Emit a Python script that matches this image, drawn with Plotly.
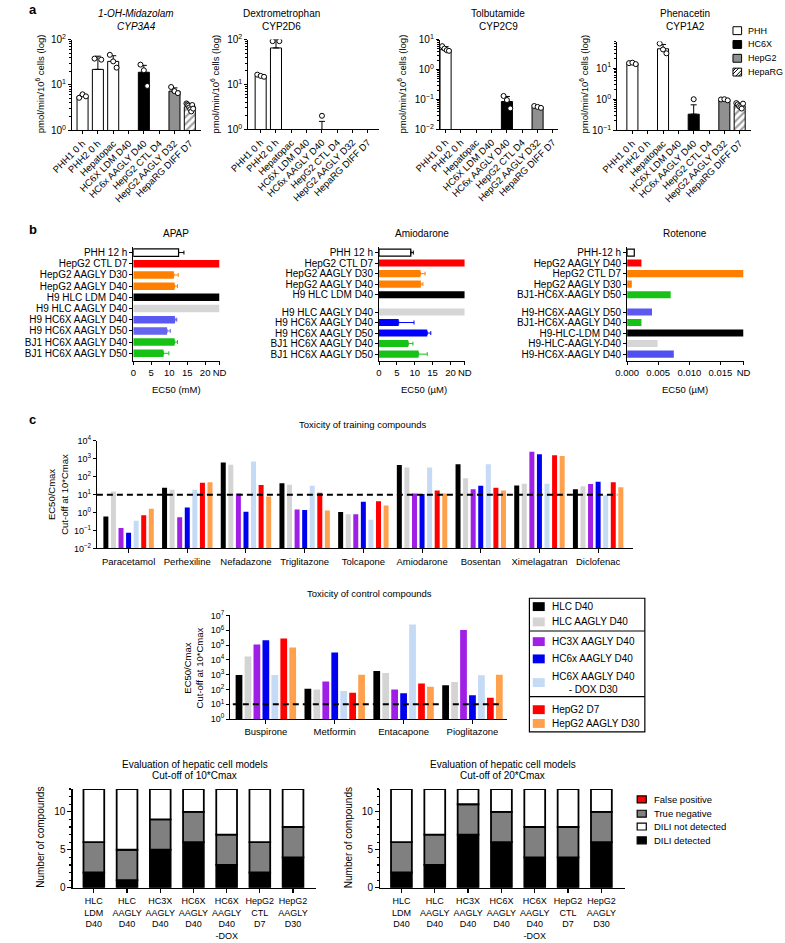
import numpy as np
import plotly.graph_objects as go

W, H = 785, 943
FONT = "Liberation Sans, Arial, Helvetica, sans-serif"

# ===================== Panel a : CYP activities =====================
cyp_samples = ["PHH1 0 h", "PHH2 0 h", "Hepatopac", "HC6X LDM D40", "HC6x AAGLY D40",
               "HepG2 CTL D4", "HepG2 AAGLY D32", "HepaRG DIFF D7"]
cyp_sample_type = ["PHH", "PHH", "PHH", "HC6X", "HC6X", "HepG2", "HepG2", "HepaRG"]
cyp_substrates = ["1-OH-Midazolam", "Dextrometrophan", "Tolbutamide", "Phenacetin"]
cyp_enzymes = ["CYP3A4", "CYP2D6", "CYP2C9", "CYP1A2"]

cyp3a4_mean = [5.6, 22, 33, None, 19, None, 7.3, 3.3]
cyp3a4_err = [0.5, 21, 11, None, 8, None, 1.3, 0.5]
cyp3a4_points = [[5.2, 6.2, 5.6], [38, 36], [46, 33, 24], [], [28, 21, 9.5], [],
                 [9.0, 7.3, 6.6], [3.9, 3.7, 3.5, 3.2, 2.9, 2.6, 3.6, 3.0]]

cyp2d6_mean = [15.5, 65, None, None, 0.7, None, None, None]
cyp2d6_err = [1.0, 35, None, None, 0.8, None, None, None]
cyp2d6_points = [[16.5, 15.5, 14.8], [92, 92], [], [], [2.0], [], [], []]

cyp2c9_mean = [4.6, None, None, None, 0.085, None, 0.055, None]
cyp2c9_err = [1.2, None, None, None, 0.04, None, 0.005, None]
cyp2c9_points = [[6.0, 5.0, 4.4, 4.2], [], [], [], [0.13, 0.095, 0.05], [],
                 [0.06, 0.056, 0.052], []]

cyp1a2_mean = [14, None, 42, None, 0.33, None, 0.95, 0.62]
cyp1a2_err = [0.8, None, 16, None, 0.33, None, 0.05, 0.1]
cyp1a2_points = [[14.5, 15, 13.5], [], [62, 40, 30], [], [1.0], [],
                 [0.98, 1.0, 0.92], [0.75, 0.68, 0.6, 0.55, 0.5, 0.72]]

cell_types = ["PHH", "HC6X", "HepG2", "HepaRG"]

# ===================== Panel b : EC50 =====================
tox_samples = ["PHH 12 h", "HepG2 CTL D7", "HepG2 AAGLY D30", "HepG2 AAGLY D40", "H9 HLC LDM D40",
               "H9 HLC AAGLY D40", "H9 HC6X AAGLY D40", "H9 HC6X AAGLY D50",
               "BJ1 HC6X AAGLY D40", "BJ1 HC6X AAGLY D50"]
apap_ec50_mM = [12.6, "ND", 11.3, 11.5, "ND", "ND", 11.6, 9.4, 11.5, 8.4]
apap_err = [1.5, 0, 1.2, 0.8, 0, 0, 0.5, 0.9, 0.8, 1.5]
amio_ec50_uM = [8.9, "ND", 11.6, 11.7, "ND", "ND", 5.5, 13.5, 8.2, 11.1]
amio_err = [0.7, 0, 1.3, 0.6, 0, 0, 4.3, 1.0, 1.3, 2.4]
rot_samples = ["PHH-12 h", "HepG2 AAGLY D40", "HepG2 CTL D7", "HepG2 AAGLY D30", "BJ1-HC6X-AAGLY D50",
               "H9-HC6X-AAGLY D50", "BJ1-HC6X-AAGLY D40", "H9-HLC-LDM D40", "H9-HLC-AAGLY-D40",
               "H9-HC6X-AAGLY D40"]
rot_ec50_uM = [0.00115, 0.0023, "ND", 0.00075, 0.0070, 0.0040, 0.0023, "ND", 0.0049, 0.0075]
rot_err = [0] * 10

# ===================== Panel c : EC50/Cmax =====================
training_compounds = ["Paracetamol", "Perhexiline", "Nefadazone", "Triglitazone", "Tolcapone",
                      "Amiodarone", "Bosentan", "Ximelagatran", "Diclofenac"]
control_compounds = ["Buspirone", "Metformin", "Entacapone", "Pioglitazone"]
model_names = ["HLC D40", "HLC AAGLY D40", "HC3X AAGLY D40", "HC6x AAGLY D40",
               "HC6X AAGLY D40<br>- DOX D30", "HepG2 D7", "HepG2 AAGLY D30"]
training_ratio = [
    [0.6, 24, 630, 44, 1.07, 450, 500, 33, 20],        # HLC D40
    [15, 19, 470, 36, 0.8, 330, 83, 41, 30],           # HLC AAGLY D40
    [0.14, 0.55, 11.5, 1.5, 0.8, 11.5, 20, 2500, 40],  # HC3X AAGLY D40
    [0.075, 1.95, 1.1, 1.4, 4.0, 11, 32, 1800, 53],    # HC6x AAGLY D40
    [0.35, 19, 700, 32, 0.4, 330, 500, 41, 9.2],       # HC6X AAGLY D40 - DOX
    [0.72, 46, 35, 12.7, 4.3, 17, 24, 1600, 50],       # HepG2 D7
    [1.65, 49, 8, 1.3, 2.5, 11.5, 17, 1450, 26],       # HepG2 AAGLY D30
]
control_ratio = [
    [950, 110, 1800, 190],
    [17000, 100, 1300, 320],
    [1.1e5, 350, 100, 1.05e6],
    [2.1e5, 3.2e4, 55, 40],
    [950, 80, 2.5e6, 900],
    [2.8e5, 60, 250, 27],
    [6.8e4, 1000, 150, 1000],
]

# ===================== Panel c bottom : evaluation =====================
eval_models = ["HLC<br>LDM<br>D40", "HLC<br>AAGLY<br>D40", "HC3X<br>AAGLY<br>D40", "HC6X<br>AAGLY<br>D40",
               "HC6X<br>AAGLY<br>D40<br>-DOX", "HepG2<br>CTL<br>D7", "HepG2<br>AAGLY<br>D30"]
outcome_names = ["False positive", "True negative", "DILI not detected", "DILI detected"]
cut10_detected = [2, 1, 5, 6, 3, 2, 4]
cut10_true_negative = [4, 4, 4, 4, 4, 4, 4]
cut10_false_positive = [0, 0, 0, 0, 0, 0, 0]
cut10_not_detected = [7, 8, 4, 3, 6, 7, 5]
cut20_detected = [2, 3, 7, 6, 4, 4, 6]
cut20_true_negative = [4, 4, 4, 4, 4, 4, 4]
cut20_false_positive = [0, 0, 0, 0, 0, 0, 0]
cut20_not_detected = [7, 6, 2, 3, 5, 5, 3]

# ===================== styling =====================
type_fill = {"PHH": "#ffffff", "HC6X": "#000000", "HepG2": "#909090", "HepaRG": "#ffffff"}
type_pattern = {"PHH": "", "HC6X": "", "HepG2": "", "HepaRG": "/"}
apap_colors = ["#ffffff", "#ff0000", "#ff8000", "#ff8000", "#000000", "#d6d6d6",
               "#5a5af2", "#6565f2", "#17c217", "#17c217"]
amio_colors = ["#ffffff", "#ff0000", "#ff8000", "#ff8000", "#000000", "#d6d6d6",
               "#0000ff", "#0000ff", "#17c217", "#17c217"]
rot_colors = ["#ffffff", "#ff0000", "#ff8000", "#ff8000", "#17c217", "#5a5af2",
              "#17c217", "#000000", "#d6d6d6", "#5050f0"]
model_colors = ["#000000", "#d4d4d4", "#9f1fe6", "#0000f0", "#c5daf5", "#ff0000", "#ffa04d"]
outcome_colors = {"False positive": "#ff0000", "True negative": "#808080",
                  "DILI not detected": "#ffffff", "DILI detected": "#000000"}

fig = go.Figure()
layout = {}
annotations = []
shapes = []


def ids(n):
    s = "" if n == 1 else str(n)
    return "x" + s, "y" + s, "xaxis" + s, "yaxis" + s


def base_axis(size=9.5):
    return dict(showline=True, linecolor="black", linewidth=1, showgrid=False, zeroline=False,
                ticks="outside", tickcolor="black", ticklen=3, tickwidth=1,
                tickfont=dict(family=FONT, size=size, color="black"), fixedrange=True)


def add_axes(n, xpx, ypx, xkw, ykw):
    xid, yid, xk, yk = ids(n)
    xa = base_axis()
    xa.update(domain=[xpx[0] / W, xpx[1] / W], anchor=yid)
    xa.update(xkw)
    ya = base_axis()
    ya.update(domain=[1 - ypx[1] / H, 1 - ypx[0] / H], anchor=xid)
    ya.update(ykw)
    layout[xk] = xa
    layout[yk] = ya


def ann(text, x, y, size=10, xanchor="center", yanchor="middle", angle=0):
    annotations.append(dict(text=text, x=x / W, y=1 - y / H, xref="paper", yref="paper",
                            showarrow=False, xanchor=xanchor, yanchor=yanchor, textangle=angle,
                            font=dict(family=FONT, size=size, color="black")))


def rect(x0, y0, x1, y1, fill, line="black", lw=1):
    shapes.append(dict(type="rect", xref="paper", yref="paper", x0=x0 / W, x1=x1 / W,
                       y0=1 - y1 / H, y1=1 - y0 / H, fillcolor=fill, line=dict(color=line, width=lw)))


def pline(x0, y0, x1, y1, lw=1, color="black"):
    shapes.append(dict(type="line", xref="paper", yref="paper", x0=x0 / W, x1=x1 / W,
                       y0=1 - y0 / H, y1=1 - y1 / H, line=dict(color=color, width=lw)))


def sup(k):
    return "10<sup>" + (str(k) if k >= 0 else "\u2212" + str(-k)) + "</sup>"


def log_axis(lo, hi, top, minor=True, size=10):
    d = dict(type="log", range=[lo, top], tickvals=[10.0 ** k for k in range(lo, hi + 1)],
             ticktext=[sup(k) for k in range(lo, hi + 1)],
             tickfont=dict(family=FONT, size=size, color="black"))
    if minor:
        d["minor"] = dict(ticks="outside", ticklen=2, tickcolor="black",
                          tickvals=[m * 10.0 ** k for k in range(lo, int(np.ceil(top))) for m in range(2, 10)])
    return d


# ---------------- panel a ----------------
cyp_sets = [(cyp3a4_mean, cyp3a4_err, cyp3a4_points),
            (cyp2d6_mean, cyp2d6_err, cyp2d6_points),
            (cyp2c9_mean, cyp2c9_err, cyp2c9_points),
            (cyp1a2_mean, cyp1a2_err, cyp1a2_points)]
a_xpx = [(48, 183), (232, 368), (432, 555), (617, 757)]
a_ypx = [(33, 125), (33, 124), (33, 124), (35, 125)]
a_ylog = [(0, 2, 2), (0, 2, 2), (-2, 1, 1), (-1, 1, 1.857)]
a_xrange = [(-0.69, 7.75), (-0.81, 7.69), (-0.375, 7.31), (-1.0, 7.75)]
a_title_x = [115, 267, 493, 688]
a_ylab_x = [15, 197, 392, 582]
JIT = 0.22

for j, (mean, err, pts) in enumerate(cyp_sets):
    n = j + 1
    xid, yid, _, _ = ids(n)
    lo, hi, top = a_ylog[j]
    add_axes(n, a_xpx[j], a_ypx[j],
             dict(range=list(a_xrange[j]), tickvals=list(range(len(cyp_samples))), ticktext=cyp_samples,
                  tickangle=-45, tickfont=dict(family=FONT, size=9.5, color="black")),
             log_axis(lo, hi, top))
    idx = list(range(len(cyp_samples)))
    fig.add_trace(go.Bar(
        x=idx, y=mean, width=0.72, xaxis=xid, yaxis=yid,
        marker=dict(color=[type_fill[t] for t in cyp_sample_type],
                    line=dict(color="black", width=1),
                    pattern=dict(shape=[type_pattern[t] for t in cyp_sample_type],
                                 fgcolor="black", size=5, solidity=0.45)),
        error_y=dict(type="data", symmetric=False, array=[e if e else 0 for e in err],
                     arrayminus=[0] * len(err), color="black", thickness=1, width=3),
        showlegend=False, hoverinfo="skip"))
    px_, py_ = [], []
    for i, p in enumerate(pts):
        k = len(p)
        for q, v in enumerate(p):
            off = (-JIT + 2 * JIT * q / (k - 1)) if k > 1 else 0.0
            px_.append(float(i + off))
            py_.append(float(v))
    fig.add_trace(go.Scatter(x=px_, y=py_, mode="markers", xaxis=xid, yaxis=yid,
                             marker=dict(symbol="circle", size=5, color="white",
                                         line=dict(color="black", width=1)),
                             showlegend=False, hoverinfo="skip"))
    t1, t2 = cyp_substrates[j], cyp_enzymes[j]
    if j == 0:
        t1, t2 = "<i>" + t1 + "</i>", "<i>" + t2 + "</i>"
    ann(t1, a_title_x[j], 7, size=10)
    ann(t2, a_title_x[j], 20, size=10)
    ann("pmol/min/10<sup>6</sup> cells (log)", a_ylab_x[j], 78, size=9.5, angle=-90)

# panel a legend
leg_y = [24, 38, 52, 66]
for t, yy in zip(cell_types, leg_y):
    rect(738, yy - 4, 747, yy + 4, type_fill[t])
    if type_pattern[t]:
        pline(738, yy + 2, 744, yy - 4)
        pline(741, yy + 4, 747, yy - 2)
        pline(738, yy - 1, 741, yy - 4)
        pline(744, yy + 4, 747, yy + 1)
    ann(t, 752, yy, size=9, xanchor="left")

ann("<b>a</b>", 1, 3, size=13, xanchor="left")

# ---------------- panel b ----------------
b_sets = [
    dict(title="APAP", xt="EC50 (mM)", labels=tox_samples, vals=apap_ec50_mM, errs=apap_err,
         colors=apap_colors, nd=24, tv=[0, 5, 10, 15, 20, 24], tt=["0", "5", "10", "15", "20", "ND"],
         xpx=(112, 202), gap_after=None, spacing=11.35, title_x=157, xt_x=157),
    dict(title="Amiodarone", xt="EC50 (\u00b5M)", labels=tox_samples, vals=amio_ec50_uM, errs=amio_err,
         colors=amio_colors, nd=24, tv=[0, 5, 10, 15, 20, 24], tt=["0", "5", "10", "15", "20", "ND"],
         xpx=(368.5, 458), gap_after=4, spacing=10.67, title_x=413, xt_x=415),
    dict(title="Rotenone", xt="EC50 (\u00b5M)", labels=rot_samples, vals=rot_ec50_uM, errs=rot_err,
         colors=rot_colors, nd=0.0187, tv=[0, 0.005, 0.010, 0.015, 0.0187],
         tt=["0.000", "0.005", "0.010", "0.015", "ND"],
         xpx=(627.5, 749), gap_after=4, spacing=10.67, title_x=688, xt_x=688),
]
b_top_row, b_ax_top, b_ax_bot = 249, 243, 359
for j, s in enumerate(b_sets):
    n = 5 + j
    xid, yid, _, _ = ids(n)
    pos = [i + (0.65 if s["gap_after"] is not None and i > s["gap_after"] else 0)
           for i in range(len(s["labels"]))]
    sp = s["spacing"]
    yr = [(b_ax_bot - b_top_row) / sp, -(b_top_row - b_ax_top) / sp]
    add_axes(n, s["xpx"], (b_ax_top, b_ax_bot),
             dict(range=[0, s["nd"]], tickvals=s["tv"], ticktext=s["tt"],
                  tickfont=dict(family=FONT, size=9.5, color="black")),
             dict(range=yr, tickvals=pos, ticktext=s["labels"],
                  tickfont=dict(family=FONT, size=10, color="black")))
    for i, (v, e, c) in enumerate(zip(s["vals"], s["errs"], s["colors"])):
        val = s["nd"] if v == "ND" else v
        white = c.lower() == "#ffffff"
        fig.add_trace(go.Bar(
            x=[val], y=[pos[i]], orientation="h", width=0.67, xaxis=xid, yaxis=yid,
            marker=dict(color=c, line=dict(color="black" if white else c, width=1.2 if white else 0)),
            error_x=dict(type="data", symmetric=False, array=[e], arrayminus=[0],
                         color="black" if white else c, thickness=1, width=2, visible=bool(e)),
            showlegend=False, hoverinfo="skip"))
    ann(s["title"], s["title_x"], 230, size=10)
    ann(s["xt"], s["xt_x"], 388, size=9.5)

ann("<b>b</b>", 1, 226, size=13, xanchor="left")

# ---------------- panel c top (training) ----------------
n = 8
xid, yid, _, _ = ids(n)
add_axes(n, (74, 634), (440, 549),
         dict(range=[-0.54, 8.6], tickvals=list(range(len(training_compounds))), ticktext=training_compounds,
              ticklen=4, tickfont=dict(family=FONT, size=9.5, color="black")),
         log_axis(-2, 4, 4, minor=False, size=9))
slot, bw = 0.129, 0.085
for k, mname in enumerate(model_names):
    fig.add_trace(go.Bar(x=list(range(len(training_compounds))), y=training_ratio[k],
                         width=bw, offset=(k - 3) * slot - bw / 2, xaxis=xid, yaxis=yid,
                         marker=dict(color=model_colors[k], line=dict(width=0)),
                         showlegend=False, hoverinfo="skip"))
shapes.append(dict(type="line", xref=xid + " domain", yref=yid, x0=0, x1=0.97, y0=10, y1=10,
                   line=dict(color="black", width=2, dash="6px,4px")))
ann("Toxicity of training compounds", 352, 423, size=9.5)
ann("EC50/Cmax<br>Cut-off at 10*Cmax", 33, 494, size=9.5, angle=-90)
ann("<b>c</b>", 1, 418, size=13, xanchor="left")

# ---------------- panel c middle (control) ----------------
n = 9
xid, yid, _, _ = ids(n)
add_axes(n, (213, 502), (617, 722),
         dict(range=[-0.52, 3.5], tickvals=list(range(len(control_compounds))), ticktext=control_compounds,
              ticklen=4, tickfont=dict(family=FONT, size=9.5, color="black")),
         log_axis(0, 7, 7, minor=False, size=9))
slot, bw = 0.13, 0.098
for k, mname in enumerate(model_names):
    fig.add_trace(go.Bar(x=list(range(len(control_compounds))), y=control_ratio[k],
                         width=bw, offset=(k - 3) * slot - bw / 2, xaxis=xid, yaxis=yid,
                         marker=dict(color=model_colors[k], line=dict(width=0)),
                         showlegend=False, hoverinfo="skip"))
shapes.append(dict(type="line", xref=xid + " domain", yref=yid, x0=0.01, x1=0.98, y0=10, y1=10,
                   line=dict(color="black", width=2, dash="6px,4px")))
ann("Toxicity of control compounds", 359, 595, size=9.5)
ann("EC50/Cmax<br>Cut-off at 10*Cmax", 175, 670, size=9.5, angle=-90)

# panel c legend (boxed, grouped)
rect(525.5, 599.5, 646, 735, "rgba(0,0,0,0)", lw=1.2)
pline(525.5, 632.7, 646, 632.7, lw=1.2)
pline(525.5, 699.3, 646, 699.3, lw=1.2)
c_leg_y = [608, 623.5, 643.5, 661, 685, 712.5, 726.5]
for k, mname in enumerate(model_names):
    yy = c_leg_y[k]
    rect(529, yy - 4.5, 541.5, yy + 4.5, model_colors[k], line=model_colors[k], lw=0)
    ann(mname, 546.5, yy, size=10, xanchor="left")

# ---------------- bottom evaluation charts ----------------
eval_sets = [
    dict(title2="Cut-off of 10*Cmax", det=cut10_detected, tn=cut10_true_negative,
         fp=cut10_false_positive, nd=cut10_not_detected, xpx=(49, 303), cx=176, ylx=15),
    dict(title2="Cut-off of 20*Cmax", det=cut20_detected, tn=cut20_true_negative,
         fp=cut20_false_positive, nd=cut20_not_detected, xpx=(370, 625), cx=497.5, ylx=337),
]
for j, s in enumerate(eval_sets):
    n = 10 + j
    xid, yid, _, _ = ids(n)
    add_axes(n, s["xpx"], (793, 893),
             dict(range=[-0.63, 6.7], tickvals=list(range(len(eval_models))), ticktext=eval_models,
                  ticklen=4, linewidth=1.5, tickwidth=1.2,
                  tickfont=dict(family=FONT, size=9, color="black")),
             dict(range=[0, 13], tickvals=[0, 5, 10], ticklen=4, linewidth=1.5, tickwidth=1.2,
                  tickfont=dict(family=FONT, size=10, color="black"),
                  minor=dict(ticks="outside", ticklen=2, tickcolor="black", dtick=1)))
    base = np.zeros(len(eval_models))
    for name, vals in [("DILI detected", s["det"]), ("True negative", s["tn"]),
                       ("False positive", s["fp"]), ("DILI not detected", s["nd"])]:
        v = np.array(vals, dtype=float)
        fig.add_trace(go.Bar(x=list(range(len(eval_models))), y=[float(x) if x > 0 else None for x in v],
                             base=[float(b) for b in base], width=0.625, xaxis=xid, yaxis=yid,
                             marker=dict(color=outcome_colors[name], line=dict(color="black", width=1.8)),
                             showlegend=False, hoverinfo="skip"))
        base = base + v
    ann("Evaluation of hepatic cell models", s["cx"], 768, size=10)
    ann(s["title2"], s["cx"], 779.5, size=10)
    ann("Number of compounds", s["ylx"], 842, size=10, angle=-90)

bot_leg_y = [803.5, 818, 831, 845]
for name, yy in zip(outcome_names, bot_leg_y):
    rect(638, yy - 3.5, 647.5, yy + 3.5, outcome_colors[name], lw=1.2)
    ann(name, 653, yy, size=9.5, xanchor="left")

fig.update_layout(width=W, height=H, margin=dict(l=0, r=0, t=0, b=0),
                  plot_bgcolor="white", paper_bgcolor="white", barmode="overlay",
                  showlegend=False, annotations=annotations, shapes=shapes,
                  font=dict(family=FONT, color="black"), **layout)

fig.write_html("out.html", config={"displayModeBar": False, "staticPlot": True},
               post_script="document.body.style.margin='0';document.body.style.overflow='hidden';")
